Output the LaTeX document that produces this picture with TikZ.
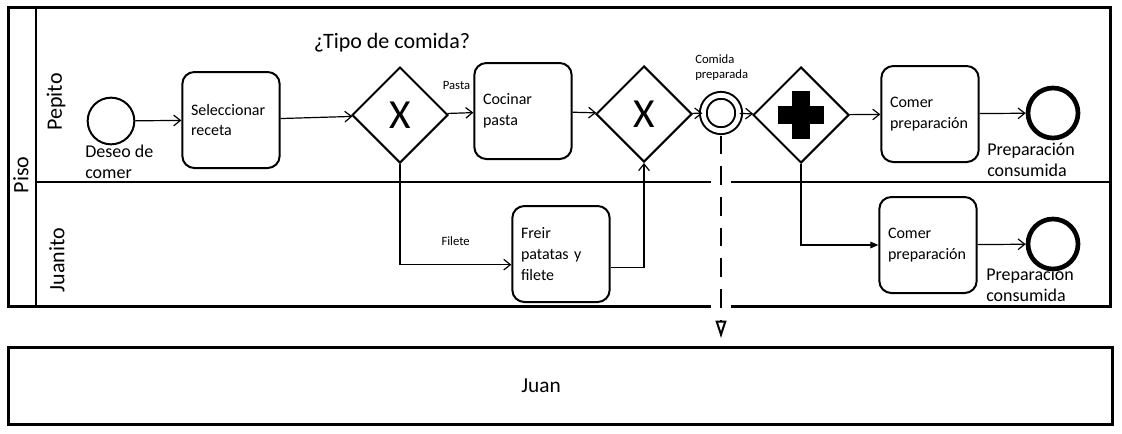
\documentclass[tikz,border=0pt]{standalone}
\usepackage{fontspec}
\setmainfont{Carlito}
\usetikzlibrary{arrows.meta,shapes.geometric,calc}

\begin{document}
\begin{tikzpicture}[x=0.75pt, y=-0.75pt,
		task/.style={draw, line width=1.5pt, rounded corners=9pt, minimum width=73pt, minimum height=72pt, text width=60pt, inner xsep=6.5pt, align=left, font=\fontsize{12}{15.5}\selectfont},
		gate/.style={diamond, draw, line width=1.5pt, minimum width=72pt, minimum height=72pt, inner sep=0pt, aspect=1, font=\fontsize{31}{31}\selectfont},
		startev/.style={circle, draw, line width=1.5pt, minimum size=35pt, inner sep=0pt},
		endev/.style={circle, draw, line width=3.5pt, minimum size=37.5pt, inner sep=0pt},
		midev/.style={circle, draw, double, line width=1.5pt, double distance=3.6pt, minimum size=26.5pt, inner sep=0pt},
		flow/.style={line width=0.9pt, -{Straight Barb[length=5pt,width=8pt]}},
		lanetext/.style={rotate=90, font=\fontsize{16.5}{18}\selectfont},
		evtext/.style={align=left, anchor=north west, inner sep=0pt, font=\fontsize{13.5}{15.5}\selectfont},
		smalltext/.style={align=left, inner sep=0pt, font=\fontsize{9.5}{11.5}\selectfont}]
	%%%%% START %%%%%
	
	\useasboundingbox (0,0) rectangle (1122,433);
	
	% pool Piso
	\draw[line width=2.25pt] (8,7) rectangle (1110,306);
	\draw[line width=1.1pt] (36,7) -- (36,306);
	\draw[line width=1.1pt] (36,182) -- (1110,182);
	\node[lanetext] (piso) at (21,175) {Piso};
	\node[lanetext] (pepito) at (56,102) {Pepito};
	\node[lanetext] (juanito) at (57,260) {Juanito};
	
	% pool Juan
	\draw[line width=2.25pt] (8,347) rectangle (1112,424);
	\node[font=\fontsize{16}{18}\selectfont] (juan) at (541,386) {Juan};
	
	\node[font=\fontsize{16.5}{18}\selectfont] (tipo) at (392,43) {¿Tipo de comida?};
	
	% events
	\node[startev] (start) at (111,121) {};
	\node[evtext] (deseo) at (85,145) {Deseo de\\comer};
	\node[midev] (inter) at (721,113) {};
	\node[smalltext, anchor=north west] (comida) at (695,54) {Comida\\preparada};
	\node[endev] (end1) at (1053,113) {};
	\node[evtext] (consum1) at (987,143) {Preparación\\consumida};
	\node[endev] (end2) at (1053,244) {};
	\node[evtext] (consum2) at (986,268) {Preparación\\consumida};
	
	% tasks
	\node[task] (selec) at (231,120) {Seleccionar\\receta};
	\node[task] (cocinar) at (523,111) {Cocinar\\pasta};
	\node[task] (freir) at (561,254) {Freir\\patatas y\\filete};
	\node[task] (comer1) at (930,114) {Comer\\preparación};
	\node[task] (comer2) at (928,245) {Comer\\preparación};
	
	% gateways
	\node[gate] (gw1) at (400,115) {X};
	\node[gate] (gw2) at (644,114) {X};
	\node[gate] (par) at (801,115) {};
	\fill ($(par)+(-23,-9)$) rectangle ($(par)+(23,9)$);
	\fill ($(par)+(-9,-24)$) rectangle ($(par)+(9,24)$);
	
	% sequence flows
	\draw[flow] (start) -- (selec);
	\draw[flow] (selec) -- (gw1);
	\draw[flow] (gw1) -- node[smalltext, pos=0.35, above=17pt] (pasta) {Pasta} (cocinar);
	\draw[flow] (cocinar) -- (gw2);
	\draw[flow] (gw2) -- (inter);
	\draw[flow] (inter) -- (par);
	\draw[flow] (par) -- (comer1);
	\draw[flow] (comer1) -- (end1);
	\draw[flow] (comer2) -- (end2);
	\draw[flow] (gw1.south) |- node[smalltext, pos=0.75, above=14pt] (filete) {Filete} ([yshift=-8pt]freir.west);
	\draw[flow] ([yshift=-10pt]freir.east) -| (gw2.south);
	\draw[line width=0.9pt, -{Triangle[length=6pt,width=5pt]}] (par.south) |- (comer2.west);
	
	% message flow
	\coordinate (msgend) at (721,338);
	\draw[white, line width=15pt, shorten <=3pt, shorten >=16pt] (inter.south) -- (msgend);
	\draw[line width=1.5pt, dash pattern=on 14pt off 9pt, shorten <=3pt, -{Triangle[open, length=13pt, width=8pt, line width=1.5pt]}] (inter.south) -- (msgend);
	
	%%%%% END %%%%%
\end{tikzpicture}
\end{document}
